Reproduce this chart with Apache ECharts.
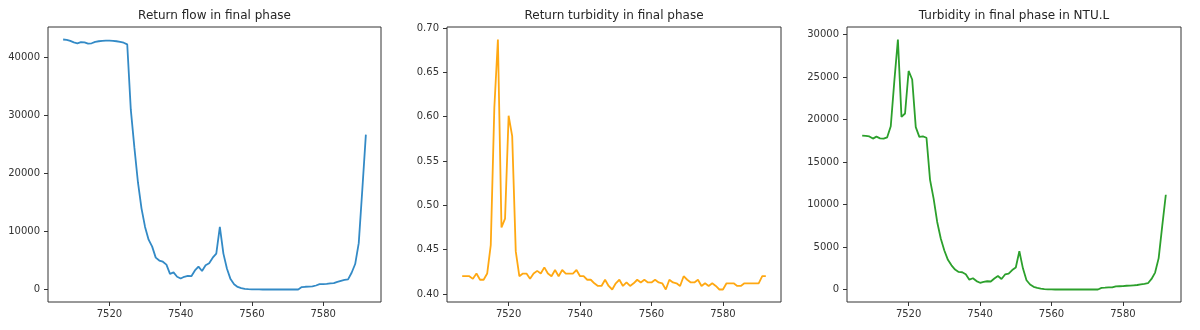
<!DOCTYPE html>
<html>
<head>
<meta charset="utf-8">
<script src="https://cdn.jsdelivr.net/npm/echarts@6/dist/echarts.min.js"></script>
<style>
html,body{margin:0;padding:0;background:#fff;}
#c{width:1200px;height:330px;}
</style>
</head>
<body>
<div id="c"></div>
<script>
var xs = [7507,7508,7509,7510,7511,7512,7513,7514,7515,7516,7517,7518,7519,7520,7521,7522,7523,7524,7525,7526,
  7527,7528,7529,7530,7531,7532,7533,7534,7535,7536,7537,7538,7539,7540,7541,7542,7543,7544,7545,7546,
  7547,7548,7549,7550,7551,7552,7553,7554,7555,7556,7557,7558,7559,7560,7561,7562,7563,7564,7565,7566,
  7567,7568,7569,7570,7571,7572,7573,7574,7575,7576,7577,7578,7579,7580,7581,7582,7583,7584,7585,7586,
  7587,7588,7589,7590,7591,7592];

var returnFlow = [43100,43050,42850,42600,42450,42650,42600,42380,42450,42700,42800,42870,42900,42900,42880,42800,42700,42550,42250,31000,
  24500,18500,14000,10800,8600,7400,5500,5000,4800,4300,2700,2950,2200,1900,2200,2350,2300,3300,3950,3200,
  4200,4550,5500,6200,10800,6200,3600,1800,900,450,250,120,60,30,20,15,10,10,10,10,
  10,10,10,10,10,10,10,420,480,500,540,700,920,950,980,1080,1100,1320,1500,1650,
  1750,2900,4400,8000,17200,26700];

var returnTurbidity = [0.420,0.420,0.420,0.417,0.423,0.416,0.416,0.423,0.455,0.610,0.687,0.475,0.485,0.601,0.578,0.448,0.420,0.423,0.423,0.417,
  0.423,0.426,0.423,0.430,0.423,0.420,0.427,0.420,0.427,0.423,0.423,0.423,0.427,0.420,0.420,0.416,0.416,0.412,0.409,0.409,
  0.416,0.409,0.405,0.412,0.416,0.409,0.413,0.409,0.412,0.416,0.413,0.416,0.413,0.413,0.416,0.413,0.412,0.405,0.416,0.413,
  0.412,0.409,0.420,0.416,0.413,0.413,0.416,0.409,0.412,0.409,0.412,0.409,0.405,0.405,0.412,0.412,0.412,0.409,0.409,0.412,
  0.412,0.412,0.412,0.412,0.420,0.420];

var turbidityNTU = [18100,18080,18000,17750,17980,17780,17740,17900,19200,24500,29400,20300,20700,25700,24700,19100,17950,18000,17850,12900,
  10700,7950,6000,4600,3500,2850,2350,2080,2040,1800,1170,1330,1000,800,900,980,950,1300,1600,1250,
  1780,1880,2300,2600,4500,2500,1100,600,320,190,110,60,30,15,10,10,10,10,10,10,
  10,10,10,10,10,10,10,200,220,250,260,380,390,400,450,460,500,540,620,680,
  750,1250,2000,3700,7500,11150];

var titles = ['Return flow in final phase', 'Return turbidity in final phase', 'Turbidity in final phase in NTU.L'];
var xTicks = [7520, 7540, 7560, 7580];
var yTicks1 = [0, 10000, 20000, 30000, 40000];
var yTicks2 = [0.40, 0.45, 0.50, 0.55, 0.60, 0.65, 0.70];
var yTicks3 = [0, 5000, 10000, 15000, 20000, 25000, 30000];

function pad(arr){
  var mn = Math.min.apply(null, arr), mx = Math.max.apply(null, arr);
  var r = mx - mn;
  return [mn - 0.05 * r, mx + 0.05 * r];
}
function pairs(ys){ return xs.map(function(x, i){ return [x, ys[i]]; }); }

var FONT = 'DejaVu Sans';
var AX = '#333';
var grids = [
  {left: 48, top: 27, width: 333, height: 275},
  {left: 447, top: 27, width: 334, height: 275},
  {left: 847, top: 27, width: 334, height: 275}
];
var xr = pad(xs);
var yDefs = [
  {r: pad(returnFlow), ticks: yTicks1, fmt: function(v){ return String(Math.round(v)); }},
  {r: pad(returnTurbidity), ticks: yTicks2, fmt: function(v){ return v.toFixed(2); }},
  {r: pad(turbidityNTU), ticks: yTicks3, fmt: function(v){ return String(Math.round(v)); }}
];
var colors = ['#338ac6', '#ffa812', '#2ca02c'];
var seriesData = [returnFlow, returnTurbidity, turbidityNTU];

var option = {
  animation: false,
  backgroundColor: '#fff',
  title: titles.map(function(t, i){
    return {
      text: t,
      left: grids[i].left + grids[i].width / 2,
      top: 10,
      padding: 0,
      textAlign: 'center',
      textStyle: {fontFamily: FONT, fontSize: 12, fontWeight: 'normal', color: '#262626'}
    };
  }),
  grid: grids.map(function(g){
    return Object.assign({show: true, borderColor: AX, borderWidth: 1, backgroundColor: 'transparent', containLabel: false}, g);
  }),
  xAxis: grids.map(function(g, i){
    return {
      type: 'value', gridIndex: i, min: xr[0], max: xr[1],
      splitLine: {show: false},
      axisLine: {show: false, onZero: false},
      axisTick: {show: true, length: 4, customValues: xTicks, lineStyle: {color: AX, width: 1}},
      axisLabel: {customValues: xTicks, margin: 7, fontFamily: FONT, fontSize: 10, color: '#333',
        formatter: function(v){ return String(v); }}
    };
  }),
  yAxis: yDefs.map(function(d, i){
    return {
      type: 'value', gridIndex: i, min: d.r[0], max: d.r[1],
      splitLine: {show: false},
      axisLine: {show: false, onZero: false},
      axisTick: {show: true, length: 4, customValues: d.ticks, lineStyle: {color: AX, width: 1}},
      axisLabel: {customValues: d.ticks, margin: 8, fontFamily: FONT, fontSize: 10, color: '#333',
        formatter: d.fmt}
    };
  }),
  series: seriesData.map(function(ys, i){
    return {
      type: 'line', xAxisIndex: i, yAxisIndex: i,
      data: pairs(ys), showSymbol: false, symbol: 'none',
      lineStyle: {color: colors[i], width: 1.8},
      itemStyle: {color: colors[i]}
    };
  })
};
var chart = echarts.init(document.getElementById('c'), null, {renderer: 'canvas'});
chart.setOption(option);
</script>
</body>
</html>
